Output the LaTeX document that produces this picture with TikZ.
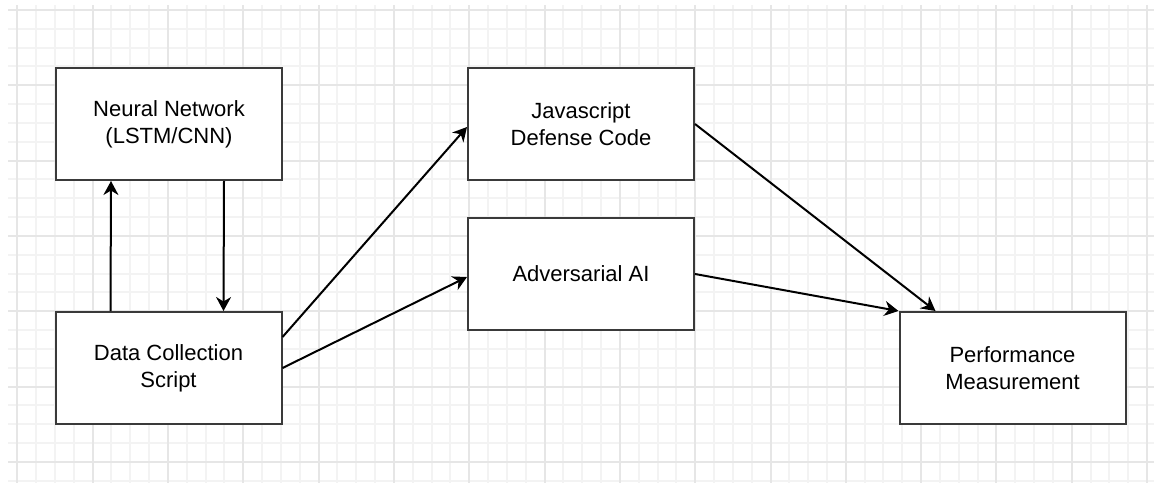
\documentclass[tikz,border=0pt]{standalone}
\usepackage{fontspec}
\setmainfont{Liberation Sans}
\usetikzlibrary{arrows.meta}
\definecolor{minorgrid}{HTML}{F3F3F3}
\definecolor{majorgrid}{HTML}{E6E6E6}
\definecolor{boxline}{HTML}{3A3A3A}
\tikzset{
  blockbox/.style={draw=boxline, line width=2pt, fill=white, minimum width=226pt, minimum height=112pt,
    align=center, inner sep=0pt, font=\fontsize{22}{27}\selectfont, text=black},
  flowarrow/.style={line width=2pt, draw=black, -{Stealth[length=14pt,width=15pt,inset=4.5pt]}},
  minorline/.style={draw=minorgrid, line width=2pt},
  majorline/.style={draw=majorgrid, line width=2pt},
}
\begin{document}
\begin{tikzpicture}[x=1pt,y=-1pt]
\useasboundingbox (0,0) rectangle (1154,483);
\fill[white] (0,0) rectangle (1154,483);
\foreach \i in {0,...,60} {
  \pgfmathsetmacro\gx{round(17.3+18.83*\i)}
  \draw[minorline] (\gx,5) -- (\gx,483);
}
\foreach \j in {0,...,25} {
  \pgfmathsetmacro\gy{round(10+18.83*\j)}
  \draw[minorline] (8,\gy) -- (1154,\gy);
}
\foreach \i in {0,...,15} {
  \pgfmathsetmacro\gx{round(17.3+75.32*\i)}
  \draw[majorline] (\gx,5) -- (\gx,483);
}
\foreach \j in {0,...,6} {
  \pgfmathsetmacro\gy{round(10+75.32*\j)}
  \draw[majorline] (8,\gy) -- (1154,\gy);
}
\node[blockbox] (nn) at (169,124) {Neural Network\\(LSTM/CNN)};
\node[blockbox] (js) at (581,124) {Javascript\\Defense Code};
\node[blockbox] (aa) at (581,274) {Adversarial AI};
\node[blockbox] (dc) at (168.5,368) {Data Collection\\Script};
\node[blockbox] (pm) at (1012.5,368) {Performance\\Measurement};
\draw[flowarrow] ([xshift=56pt]dc.north west) -- ([xshift=56pt]nn.south west);
\draw[flowarrow] ([xshift=169pt]nn.south west) -- ([xshift=169pt]dc.north west);
\draw[flowarrow] ([yshift=-26pt]dc.north east) -- ([yshift=-3pt]js.west);
\draw[flowarrow] (dc.east) -- ([yshift=-3pt]aa.west);
\draw[flowarrow] (js.east) -- ([xshift=37pt]pm.north west);
\draw[flowarrow] (aa.east) -- (pm.north west);
\end{tikzpicture}
\end{document}
